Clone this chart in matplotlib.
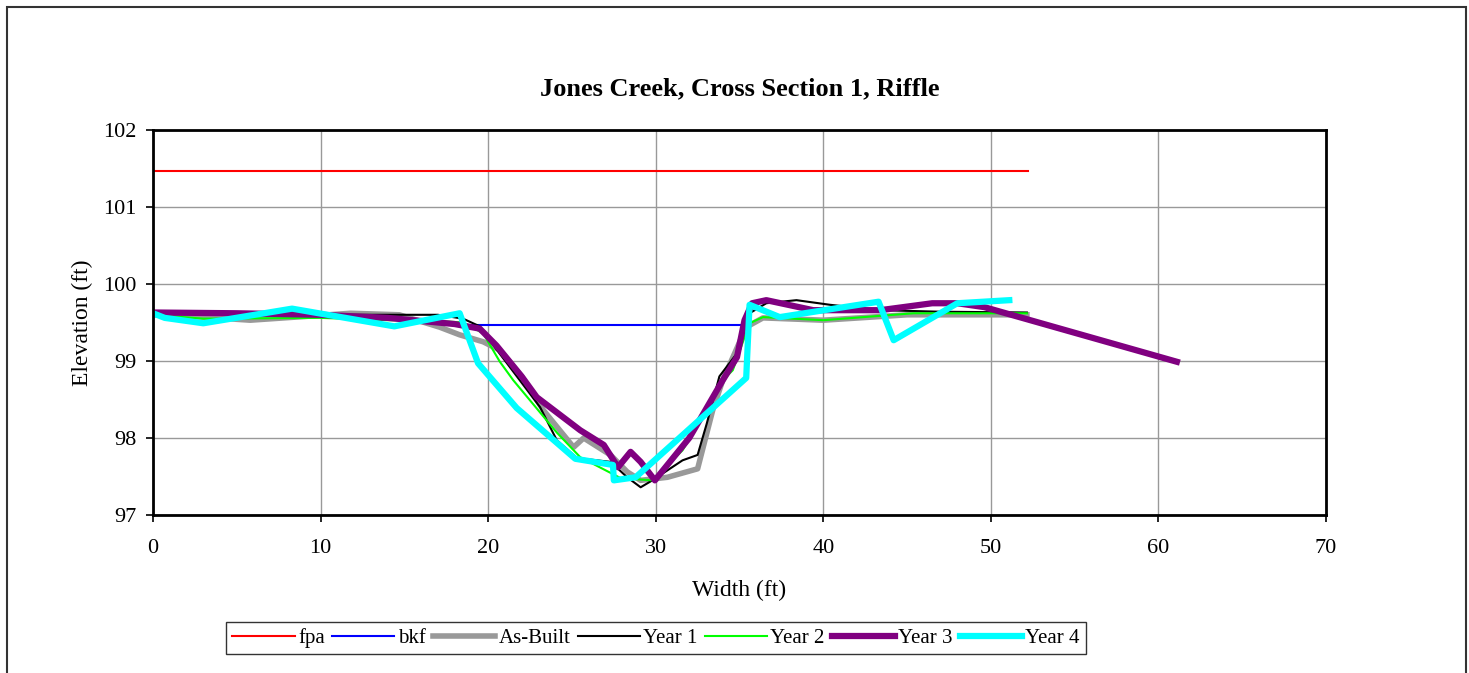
import matplotlib.pyplot as plt
from matplotlib.patches import Rectangle

plt.rcParams.update({
    'font.family': ['Liberation Serif', 'DejaVu Serif'],
    'font.size': 16,
})

# Floodprone area and bankfull lines
fpa_x = [0.0, 52.2]
fpa_y = [101.47, 101.47]
bkf_x = [18.0, 35.2]
bkf_y = [99.47, 99.47]

# Survey data (width ft, elevation ft)
asbuilt_x = [0.0, 3.0, 5.8, 8.5, 11.8, 14.7, 17.1, 18.3, 19.7, 20.7, 22.0, 23.3, 25.1, 25.7, 27.3, 28.3,
             29.1, 30.7, 32.5, 33.4, 34.0, 35.4, 36.4, 40.0, 45.0, 52.15]
asbuilt_y = [99.6, 99.57, 99.53, 99.57, 99.62, 99.6, 99.44, 99.34, 99.25, 99.14, 98.8, 98.36, 97.88, 98.0, 97.78, 97.56,
             97.45, 97.49, 97.6, 98.36, 98.75, 99.44, 99.56, 99.53, 99.6, 99.6]

year1_x = [0.0, 5.0, 10.0, 14.0, 17.0, 18.5, 19.5, 20.5, 23.1, 24.1, 25.3, 27.3, 28.3, 29.1, 29.8, 31.6, 32.5,
           33.05, 33.8, 34.85, 35.6, 36.6, 38.4, 40.4, 43.4, 47.0, 52.15]
year1_y = [99.62, 99.61, 99.6, 99.6, 99.6, 99.55, 99.45, 99.15, 98.4, 97.97, 97.74, 97.69, 97.49, 97.36, 97.45, 97.71, 97.78,
           98.19, 98.8, 99.1, 99.62, 99.75, 99.79, 99.73, 99.66, 99.64, 99.63]

year2_x = [0.0, 3.0, 10.0, 14.0, 17.0, 18.5, 19.7, 20.7, 21.5, 24.1, 25.5, 27.9, 29.8, 31.6, 33.05, 34.0, 34.6,
           35.6, 36.4, 40.0, 45.4, 52.15]
year2_y = [99.6, 99.55, 99.56, 99.53, 99.52, 99.5, 99.36, 98.99, 98.75, 98.07, 97.75, 97.48, 97.45, 97.84, 98.36, 98.75, 98.88,
           99.49, 99.57, 99.53, 99.62, 99.62]

year3_x = [0.0, 5.0, 10.0, 14.0, 18.0, 19.5, 20.5, 22.0, 22.9, 25.5, 26.9, 27.75, 28.5, 29.1, 29.95, 32.0, 34.0,
           34.85, 35.3, 35.75, 36.6, 39.4, 43.4, 46.5, 48.0, 49.6, 61.1]
year3_y = [99.63, 99.62, 99.6, 99.56, 99.48, 99.42, 99.2, 98.8, 98.53, 98.1, 97.91, 97.62, 97.82, 97.69, 97.45, 98.0, 98.75,
           99.05, 99.53, 99.75, 99.79, 99.66, 99.66, 99.75, 99.75, 99.7, 98.99]

year4_x = [0.0, 0.7, 3.0, 8.3, 14.4, 18.3, 19.4, 21.7, 25.2, 27.45, 27.5, 28.8, 35.4, 35.6, 37.4, 43.3, 44.2,
           48.0, 51.1]
year4_y = [99.62, 99.56, 99.49, 99.68, 99.45, 99.62, 98.97, 98.39, 97.73, 97.65, 97.45, 97.49, 98.78, 99.73, 99.57, 99.77, 99.27,
           99.75, 99.79]

fig = plt.figure(figsize=(14.69, 6.73), dpi=100)
ax = fig.add_axes([153 / 1469, 1 - 515 / 673, (1326 - 153) / 1469, (515 - 130) / 673])

ax.plot(fpa_x, fpa_y, color='#ff0000', linewidth=1.5, label='fpa')
ax.plot(bkf_x, bkf_y, color='#0000ff', linewidth=1.5, label='bkf')
ax.plot(asbuilt_x, asbuilt_y, color='#999999', linewidth=4, label='As-Built')
ax.plot(year1_x, year1_y, color='black', linewidth=1.5, label='Year 1')
ax.plot(year2_x, year2_y, color='#00ff00', linewidth=1.5, label='Year 2')
ax.plot(year3_x, year3_y, color='#800080', linewidth=4.5, label='Year 3')
ax.plot(year4_x, year4_y, color='#00ffff', linewidth=4.5, label='Year 4')

ax.set_xlim(0, 70)
ax.set_ylim(97, 102)
ax.set_xticks(range(0, 71, 10))
ax.set_yticks(range(97, 103))
ax.grid(True, color='#999999', linewidth=1)
ax.set_axisbelow(True)
for s in ax.spines.values():
    s.set_linewidth(2)
    s.set_color('black')
ax.tick_params(direction='out', length=5, width=1.2)
ax.tick_params(axis='x', pad=12)
ax.tick_params(axis='y', pad=7)

ax.set_xlabel('Width (ft)', fontsize=17, labelpad=16)
ax.set_ylabel('Elevation (ft)', fontsize=17, labelpad=7)
ax.set_title('Jones Creek, Cross Section 1, Riffle', fontsize=19, fontweight='bold', pad=25)

leg = fig.legend(loc='center', bbox_to_anchor=(656 / 1469, 1 - 638 / 673), ncol=7,
                 fontsize=15, frameon=True, fancybox=False, edgecolor='black',
                 handlelength=3.0, handletextpad=0.15, columnspacing=0.35, borderpad=0.3)
leg.get_frame().set_linewidth(1)

# outer chart border
fig.patches.append(Rectangle((7 / 1469, -0.05), 1459 / 1469, 1.05 - 7 / 673,
                             transform=fig.transFigure, fill=False,
                             edgecolor='#333333', linewidth=1.5))

fig.savefig('out.png', dpi=100)
